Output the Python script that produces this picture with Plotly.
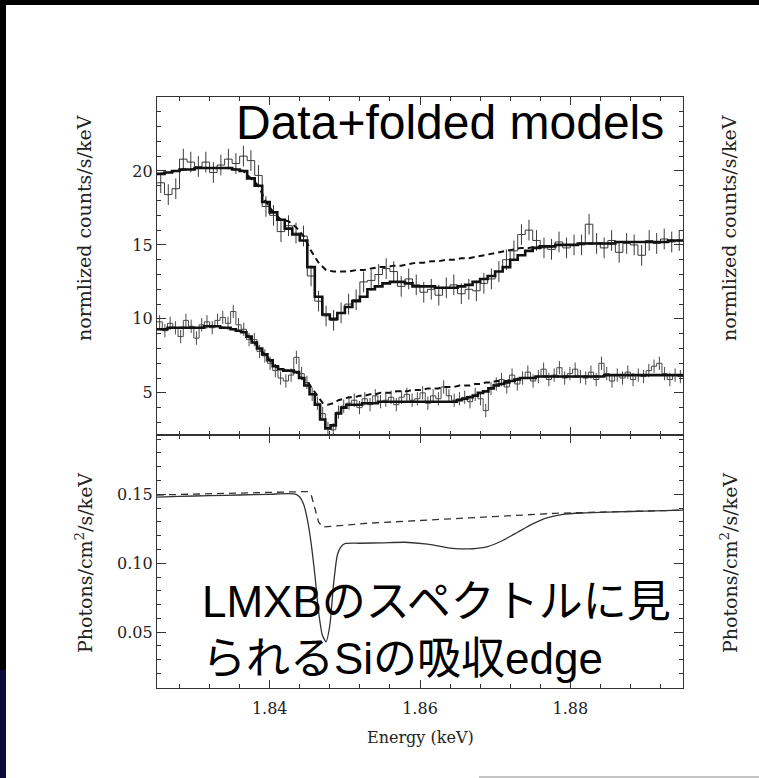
import plotly.graph_objects as go

W, H = 759, 778
E_MIN, E_MAX = 1.825, 1.895

# ---------------- top panel: upper spectrum (70 bins) ----------------
upper_data = [19.2, 18.4, 18.8, 20.8, 20.6, 20.3, 20.6, 19.9, 20.4, 20.8,
              20.5, 21.0, 20.7, 19.7, 17.6, 17.0, 15.9, 16.3, 15.8, 15.6,
              12.9, 11.2, 10.2, 9.9, 10.4, 11.0, 11.3, 12.5, 12.6, 13.0,
              13.4, 13.2, 12.2, 12.7, 12.3, 11.8, 12.0, 11.6, 12.1, 12.3,
              11.7, 12.0, 11.9, 12.4, 12.7, 13.2, 14.0, 14.6, 15.7, 16.0,
              15.3, 14.8, 14.7, 15.2, 14.8, 15.0, 15.0, 16.4, 15.1, 14.8,
              15.3, 14.5, 15.1, 15.0, 14.3, 15.3, 15.1, 15.4, 15.2, 15.3]
upper_model = [19.8, 19.9, 20.0, 20.1, 20.1, 20.2, 20.2, 20.2, 20.2, 20.2,
               20.1, 20.0, 19.5, 19.0, 17.9, 17.2, 16.7, 16.1, 15.7, 15.3,
               13.5, 11.5, 10.3, 10.0, 10.4, 10.8, 11.2, 11.5, 12.0, 12.2,
               12.4, 12.5, 12.5, 12.4, 12.2, 12.2, 12.2, 12.1, 12.1, 12.1,
               12.2, 12.3, 12.5, 12.7, 12.9, 13.2, 13.5, 14.0, 14.3, 14.6,
               14.8, 14.9, 14.9, 15.0, 15.0, 15.0, 15.1, 15.1, 15.1, 15.1,
               15.1, 15.2, 15.2, 15.2, 15.2, 15.2, 15.2, 15.2, 15.3, 15.3]
upper_noedge = [19.8, 19.9, 20.0, 20.1, 20.1, 20.2, 20.2, 20.2, 20.2, 20.2,
                20.1, 20.0, 19.5, 19.0, 17.9, 17.2, 16.7, 16.6, 16.2, 15.6,
                14.6, 13.8, 13.3, 13.2, 13.2, 13.2, 13.3, 13.3, 13.4, 13.5,
                13.5, 13.6, 13.6, 13.7, 13.8, 13.8, 13.9, 13.9, 14.0, 14.0,
                14.1, 14.1, 14.2, 14.3, 14.4, 14.5, 14.6, 14.7, 14.8, 14.8,
                14.9, 14.9, 14.9, 15.0, 15.0, 15.0, 15.1, 15.1, 15.1, 15.1,
                15.1, 15.2, 15.2, 15.2, 15.2, 15.2, 15.2, 15.2, 15.3, 15.3]
upper_err = 0.7

# ---------------- top panel: lower spectrum (100 bins) ----------------
lower_data = [9.8, 9.2, 9.7, 9.4, 8.8, 9.9, 9.5, 8.7, 9.6, 9.8,
              9.4, 9.9, 10.1, 9.7, 10.5, 9.6, 9.3, 8.6, 8.6, 7.8,
              7.5, 7.0, 6.5, 6.0, 5.8, 6.2, 7.4, 6.3, 5.7, 4.9,
              4.3, 3.6, 2.6, 2.5, 3.7, 4.1, 4.3, 4.5, 4.0, 4.6,
              4.2, 4.8, 4.4, 4.5, 4.7, 4.2, 4.7, 4.9, 4.5, 4.6,
              5.0, 4.3, 4.8, 4.6, 5.4, 4.8, 4.5, 4.6, 4.7, 4.4,
              4.9, 4.6, 3.8, 5.3, 5.6, 5.9, 5.4, 6.2, 5.6, 6.0,
              6.4, 5.8, 6.1, 6.6, 5.9, 6.2, 6.7, 6.0, 6.3, 6.6,
              6.1, 6.0, 6.4, 5.9, 7.0, 6.3, 5.8, 6.2, 6.0, 6.4,
              5.9, 6.2, 6.1, 6.5, 6.8, 7.0, 6.3, 5.9, 6.2, 6.1]
lower_model = [9.3, 9.3, 9.4, 9.4, 9.4, 9.4, 9.4, 9.4, 9.4, 9.5,
               9.5, 9.5, 9.4, 9.4, 9.3, 9.2, 9.1, 8.8, 8.4, 8.0,
               7.6, 7.2, 6.8, 6.6, 6.5, 6.5, 6.4, 6.0, 5.5, 4.9,
               4.2, 3.2, 2.6, 2.8, 3.6, 4.0, 4.2, 4.2, 4.2, 4.3,
               4.3, 4.3, 4.4, 4.4, 4.4, 4.4, 4.4, 4.4, 4.4, 4.4,
               4.4, 4.4, 4.4, 4.4, 4.4, 4.4, 4.4, 4.5, 4.6, 4.7,
               4.8, 5.0, 5.1, 5.3, 5.5, 5.6, 5.7, 5.8, 5.9, 6.0,
               6.0, 6.0, 6.1, 6.1, 6.1, 6.1, 6.1, 6.1, 6.1, 6.1,
               6.1, 6.1, 6.1, 6.1, 6.1, 6.2, 6.2, 6.2, 6.2, 6.2,
               6.2, 6.2, 6.2, 6.2, 6.2, 6.2, 6.2, 6.2, 6.2, 6.2]
lower_noedge = [9.3, 9.3, 9.4, 9.4, 9.4, 9.4, 9.4, 9.4, 9.4, 9.5,
                9.5, 9.5, 9.4, 9.4, 9.3, 9.2, 9.1, 8.8, 8.4, 8.0,
                7.6, 7.2, 6.8, 6.6, 6.5, 6.5, 6.4, 6.0, 5.8, 5.3,
                4.8, 4.3, 4.2, 4.3, 4.5, 4.6, 4.7, 4.7, 4.8, 4.8,
                4.9, 4.9, 5.0, 5.0, 5.0, 5.1, 5.1, 5.1, 5.2, 5.2,
                5.2, 5.3, 5.3, 5.3, 5.4, 5.4, 5.4, 5.5, 5.5, 5.5,
                5.6, 5.6, 5.7, 5.7, 5.8, 5.8, 5.8, 5.9, 5.9, 6.0,
                6.0, 6.0, 6.1, 6.1, 6.1, 6.1, 6.1, 6.1, 6.1, 6.1,
                6.1, 6.1, 6.1, 6.1, 6.1, 6.2, 6.2, 6.2, 6.2, 6.2,
                6.2, 6.2, 6.2, 6.2, 6.2, 6.2, 6.2, 6.2, 6.2, 6.2]
lower_err = 0.45

# ---------------- bottom panel: photon models ----------------
edge_E = [1.825, 1.828, 1.832, 1.836, 1.840, 1.8425, 1.8435, 1.844, 1.8445,
          1.845, 1.8455, 1.846, 1.8465, 1.847, 1.8475, 1.848, 1.8485, 1.849,
          1.8495, 1.850, 1.852, 1.855, 1.858, 1.861, 1.864, 1.867, 1.869,
          1.871, 1.873, 1.875, 1.877, 1.879, 1.882, 1.886, 1.890, 1.895]
edge_flux = [0.148, 0.1485, 0.149, 0.1495, 0.150, 0.1505, 0.150, 0.148, 0.143,
             0.132, 0.115, 0.092, 0.065, 0.048, 0.043, 0.055, 0.085, 0.106,
             0.112, 0.1142, 0.1145, 0.1148, 0.1152, 0.1138, 0.111, 0.1105, 0.112,
             0.1165, 0.1225, 0.1285, 0.1330, 0.1355, 0.1365, 0.1372, 0.1378, 0.1385]
cont_E = [1.825, 1.830, 1.835, 1.840, 1.845, 1.8455, 1.846, 1.8465, 1.847,
          1.853, 1.860, 1.870, 1.878, 1.885, 1.895]
cont_flux = [0.1495, 0.150, 0.1505, 0.151, 0.152, 0.150, 0.140, 0.130, 0.1262,
             0.129, 0.131, 0.134, 0.1362, 0.1372, 0.1385]

x_ticks = [1.84, 1.86, 1.88]
y1_ticks = [5, 10, 15, 20]
y2_ticks = [0.05, 0.10, 0.15]


def bins(vals):
    w = (E_MAX - E_MIN) / len(vals)
    edges = [E_MIN + i * w for i in range(len(vals) + 1)]
    centers = [E_MIN + (i + 0.5) * w for i in range(len(vals))]
    return edges, centers


def step_xy(vals):
    edges, _ = bins(vals)
    return edges, list(vals) + [vals[-1]]


fig = go.Figure()

for data, model, noedge, err, dcol in [
    (upper_data, upper_model, upper_noedge, upper_err, "#3a3a3a"),
    (lower_data, lower_model, lower_noedge, lower_err, "#4a4a4a"),
]:
    ex, ey = step_xy(data)
    _, cen = bins(data)
    fig.add_trace(go.Scatter(x=ex, y=ey, mode="lines", line=dict(shape="hv", color=dcol, width=1),
                             xaxis="x", yaxis="y", hoverinfo="skip"))
    fig.add_trace(go.Scatter(x=cen, y=data, mode="markers", marker=dict(size=1, color=dcol),
                             error_y=dict(type="constant", value=err, color=dcol, thickness=1, width=0),
                             xaxis="x", yaxis="y", hoverinfo="skip"))
    _, mcen = bins(noedge)
    fig.add_trace(go.Scatter(x=mcen, y=noedge, mode="lines", line=dict(color="#111", width=2, dash="6px,4px"),
                             xaxis="x", yaxis="y", hoverinfo="skip"))
    mx, my = step_xy(model)
    fig.add_trace(go.Scatter(x=mx, y=my, mode="lines", line=dict(shape="hv", color="#111", width=2.6),
                             xaxis="x", yaxis="y", hoverinfo="skip"))

fig.add_trace(go.Scatter(x=cont_E, y=cont_flux, mode="lines", line=dict(color="#333", width=1.3, dash="7px,5px"),
                         xaxis="x2", yaxis="y2", hoverinfo="skip"))
fig.add_trace(go.Scatter(x=edge_E, y=edge_flux, mode="lines", line=dict(color="#333", width=1.3, shape="spline", smoothing=0.6),
                         xaxis="x2", yaxis="y2", hoverinfo="skip"))


def px(x):
    return x / W


def py(y):
    return 1 - y / H


LEFT, RIGHT, TOP, MID, BOT = 157, 683, 97, 435, 688
axcol = "#333"
tickfont = dict(family="DejaVu Serif", size=16, color="#222")

common_x = dict(range=[E_MIN, E_MAX], domain=[px(LEFT), px(RIGHT)], showgrid=False, zeroline=False,
                showline=True, linecolor=axcol, linewidth=1.4, mirror="allticks",
                ticks="inside", ticklen=8, tickwidth=1.3, tickcolor=axcol,
                tickvals=x_ticks, ticktext=[f"{v:.2f}" for v in x_ticks], tickfont=tickfont,
                minor=dict(ticks="inside", ticklen=4, tickwidth=1, tickcolor=axcol, dtick=0.004, tick0=1.84, showgrid=False))

fig.update_layout(
    width=W, height=H, margin=dict(l=0, r=0, t=0, b=0),
    paper_bgcolor="black", plot_bgcolor="white", showlegend=False,
    xaxis=dict(common_x, anchor="y", showticklabels=False),
    xaxis2=dict(common_x, anchor="y2", matches="x", showticklabels=True, ticklabelstandoff=6),
    yaxis=dict(range=[2.15, 25.0], domain=[py(MID), py(TOP)], anchor="x", showgrid=False, zeroline=False,
               showline=True, linecolor=axcol, linewidth=1.4, mirror="allticks",
               ticks="inside", ticklen=9, tickwidth=1.3, tickcolor=axcol,
               tickvals=y1_ticks, ticktext=[str(v) for v in y1_ticks], tickfont=tickfont,
               minor=dict(ticks="inside", ticklen=4, tickwidth=1, tickcolor=axcol, dtick=1, tick0=0, showgrid=False)),
    yaxis2=dict(range=[0.0095, 0.193], domain=[py(BOT), py(MID)], anchor="x2", showgrid=False, zeroline=False,
                showline=True, linecolor=axcol, linewidth=1.4, mirror="allticks",
                ticks="inside", ticklen=9, tickwidth=1.3, tickcolor=axcol,
                tickvals=y2_ticks, ticktext=[f"{v:.2f}" for v in y2_ticks], tickfont=tickfont,
                minor=dict(ticks="inside", ticklen=4, tickwidth=1, tickcolor=axcol, dtick=0.01, tick0=0, showgrid=False)),
)

shapes = [
    dict(type="rect", xref="paper", yref="paper", x0=px(6), x1=1, y0=0, y1=py(5),
         fillcolor="white", line=dict(width=0), layer="below"),
    dict(type="rect", xref="paper", yref="paper", x0=0, x1=px(6), y0=0, y1=py(670),
         fillcolor="#0c0c3c", line=dict(width=0), layer="below"),
    dict(type="line", xref="paper", yref="paper", x0=px(479), x1=1, y0=py(777), y1=py(777),
         line=dict(color="#888", width=1.2)),
]
fig.update_layout(shapes=shapes)

label_font = dict(family="DejaVu Serif", size=19, color="#222")
ann = [
    dict(text="normlized counts/s/keV", x=px(84), y=py(228), textangle=-90, font=label_font),
    dict(text="Photons/cm<sup>2</sup>/s/keV", x=px(84), y=py(563), textangle=-90, font=label_font),
    dict(text="normlized counts/s/keV", x=px(729), y=py(228), textangle=-90, font=label_font),
    dict(text="Photons/cm<sup>2</sup>/s/keV", x=px(729), y=py(563), textangle=-90, font=label_font),
    dict(text="Energy (keV)", x=px(420), y=py(737), font=dict(family="DejaVu Serif", size=16, color="#222")),
    dict(text="Data+folded models", x=px(234), y=py(122), xanchor="left",
         font=dict(family="Liberation Sans", size=48, color="black")),
    dict(text="LMXBのスペクトルに見<br>られるSiの吸収edge", x=px(200), y=py(630), xanchor="left", align="left",
         font=dict(family="Liberation Sans, Noto Sans CJK JP", size=44, color="black")),
]
for a in ann:
    a.setdefault("xanchor", "center")
    a.update(xref="paper", yref="paper", yanchor="middle", showarrow=False)
fig.update_layout(annotations=ann)

fig.write_html("out.html")
